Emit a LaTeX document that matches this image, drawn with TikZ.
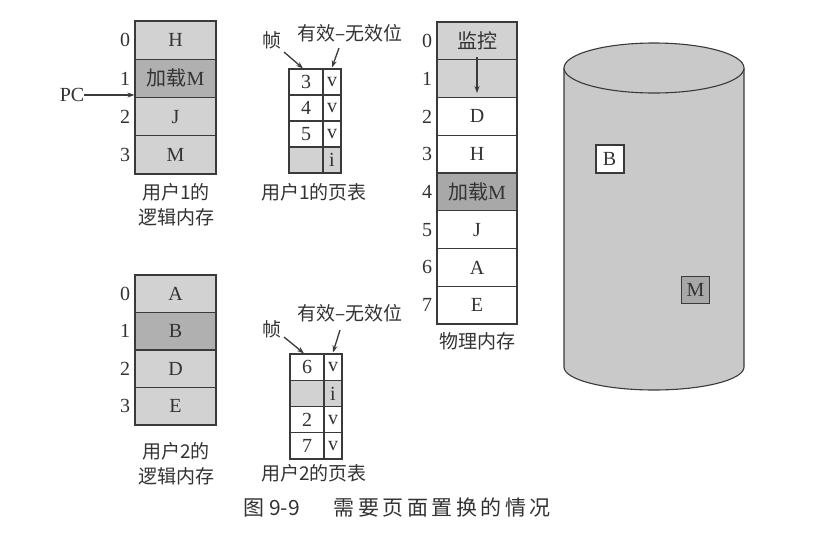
\documentclass[tikz,border=0pt]{standalone}
\usepackage{fontspec}
\setmainfont{Liberation Serif}
\newfontfamily\cjk{Noto Sans CJK SC}
\usetikzlibrary{arrows.meta}
\definecolor{lc}{HTML}{3A3A3A}
\definecolor{tc}{HTML}{333333}
\definecolor{lg}{HTML}{D2D2D2}
\definecolor{dg}{HTML}{B0B0B0}
\definecolor{pg}{HTML}{A8A8A8}
\definecolor{cg}{HTML}{C9C9C9}
\newcommand{\fs}{\fontsize{20}{22}\selectfont}
\newcommand{\cs}{\fontsize{19}{22}\selectfont\cjk}
\newcommand{\gp}{\hspace{3.5pt}}
\tikzset{
  cellbox/.style={draw=lc, line width=1.1pt, inner sep=0pt, font=\fs, text=tc},
  lmem/.style={cellbox, minimum width=81pt, minimum height=38.25pt},
  pmem/.style={cellbox, minimum width=80pt, minimum height=37.75pt},
  fcol/.style={cellbox, minimum width=34pt, minimum height=26pt},
  vcol/.style={cellbox, minimum width=18pt, minimum height=26pt},
  idx/.style={font=\fs, text=tc, inner sep=0pt},
  lbl/.style={font=\cs, text=tc, inner sep=0pt, align=center},
  arr/.style={draw=lc, line width=1.3pt, -{Stealth[length=7pt,width=5pt]}},
}
\begin{document}
\begin{tikzpicture}[x=1pt,y=-1pt]
\useasboundingbox (0,0) rectangle (813,538);
\fill[white] (0,0) rectangle (813,538);

% ---- user 1 logical memory
\node[lmem, fill=lg] (a0) at (175.5,40.1) {H};
\node[lmem, fill=dg] (a1) at (175.5,78.4) {{\cjk 加载}M};
\node[lmem, fill=lg] (a2) at (175.5,116.6) {J};
\node[lmem, fill=lg] (a3) at (175.5,154.9) {M};
\node[idx] (ai0) at (125,40.1) {0};
\node[idx] (ai1) at (125,78.4) {1};
\node[idx] (ai2) at (125,116.6) {2};
\node[idx] (ai3) at (125,154.9) {3};
\node[idx] (pc) at (72,95) {PC};
\draw[arr] (pc.east) -- (pc.east -| a2.west);
\node[lbl] (acap) at (176,204.5) {{\cjk 用户}1{\cjk 的}\\[3pt]{\cjk 逻辑内存}};

% ---- user 1 page table
\node[fcol] (p0) at (306,82) {3};
\node[vcol] (q0) at (332,82) {v};
\node[fcol] (p1) at (306,108) {4};
\node[vcol] (q1) at (332,108) {v};
\node[fcol] (p2) at (306,134) {5};
\node[vcol] (q2) at (332,134) {v};
\node[fcol, fill=lg] (p3) at (306,160) {};
\node[vcol, fill=lg] (q3) at (332,160) {i};
\node[lbl] (zhen1) at (272,40) {帧};
\node[lbl] (vb1) at (350,33) {有效–无效位};
\coordinate (zt1) at (284,52);
\coordinate (vt1) at (339,48);
\draw[arr] (zt1) -- ([xshift=-3pt]p0.north);
\draw[arr] (vt1) -- ([yshift=1pt]q0.north);
\node[lbl] (pcap1) at (314,192) {{\cjk 用户}1{\cjk 的页表}};

% ---- physical memory
\node[pmem, fill=lg] (m0) at (477,40.9) {{\cjk 监控}};
\node[pmem, fill=lg] (m1) at (477,78.6) {};
\node[pmem] (m2) at (477,116.4) {D};
\node[pmem] (m3) at (477,154.1) {H};
\node[pmem, fill=pg] (m4) at (477,191.9) {{\cjk 加载}M};
\node[pmem] (m5) at (477,229.6) {J};
\node[pmem] (m6) at (477,267.4) {A};
\node[pmem] (m7) at (477,305.1) {E};
\node[idx] (mi0) at (427,40.9) {0};
\node[idx] (mi1) at (427,78.6) {1};
\node[idx] (mi2) at (427,116.4) {2};
\node[idx] (mi3) at (427,154.1) {3};
\node[idx] (mi4) at (427,191.9) {4};
\node[idx] (mi5) at (427,229.6) {5};
\node[idx] (mi6) at (427,267.4) {6};
\node[idx] (mi7) at (427,305.1) {7};
\draw[arr] ([yshift=3pt]m0.south) -- ([yshift=5pt]m1.south);
\node[lbl] (mcap) at (477,341) {物理内存};

% ---- user 2 logical memory
\node[lmem, fill=lg, minimum height=37.5pt] (b0) at (175.5,293.75) {A};
\node[lmem, fill=dg, minimum height=37.5pt] (b1) at (175.5,331.25) {B};
\node[lmem, fill=lg, minimum height=37.5pt] (b2) at (175.5,368.75) {D};
\node[lmem, fill=lg, minimum height=37.5pt] (b3) at (175.5,406.25) {E};
\node[idx] (bi0) at (125,293.75) {0};
\node[idx] (bi1) at (125,331.25) {1};
\node[idx] (bi2) at (125,368.75) {2};
\node[idx] (bi3) at (125,406.25) {3};
\node[lbl] (bcap) at (176,463.5) {{\cjk 用户}2{\cjk 的}\\[3pt]{\cjk 逻辑内存}};

% ---- user 2 page table
\node[fcol, minimum height=26.25pt] (r0) at (307,367.1) {6};
\node[vcol, minimum height=26.25pt] (s0) at (333,367.1) {v};
\node[fcol, fill=lg, minimum height=26.25pt] (r1) at (307,393.4) {};
\node[vcol, fill=lg, minimum height=26.25pt] (s1) at (333,393.4) {i};
\node[fcol, minimum height=26.25pt] (r2) at (307,419.6) {2};
\node[vcol, minimum height=26.25pt] (s2) at (333,419.6) {v};
\node[fcol, minimum height=26.25pt] (r3) at (307,445.9) {7};
\node[vcol, minimum height=26.25pt] (s3) at (333,445.9) {v};
\node[lbl] (zhen2) at (272,329) {帧};
\node[lbl] (vb2) at (350,313) {有效–无效位};
\coordinate (zt2) at (284,337);
\coordinate (vt2) at (340,330);
\draw[arr] (zt2) -- ([xshift=-3pt]r0.north);
\draw[arr] (vt2) -- ([yshift=1pt]s0.north);
\node[lbl] (pcap2) at (314,473) {{\cjk 用户}2{\cjk 的页表}};

% ---- disk
\coordinate (dk) at (654,68);
\filldraw[fill=cg, draw=lc, line width=1.1pt]
  (564,68) -- (564,367) arc[start angle=180, end angle=360, x radius=90pt, y radius=23pt] -- (744,68);
\filldraw[fill=cg, draw=lc, line width=1.1pt] (dk) ellipse [x radius=90pt, y radius=25pt];
\node[cellbox, fill=white, line width=2pt, minimum width=28pt, minimum height=28pt] (db) at (609.5,158.5) {B};
\node[cellbox, fill=pg, line width=1.3pt, minimum width=28pt, minimum height=27pt] (dm) at (695.5,290) {M};

% ---- caption
\node[lbl, anchor=west, font=\fontsize{21}{24}\selectfont\cjk] (cap) at (243,508)
  {图\hspace{5pt}9-9\hspace{34pt}需\gp 要\gp 页\gp 面\gp 置\gp 换\gp 的\gp 情\gp 况};
\end{tikzpicture}
\end{document}
